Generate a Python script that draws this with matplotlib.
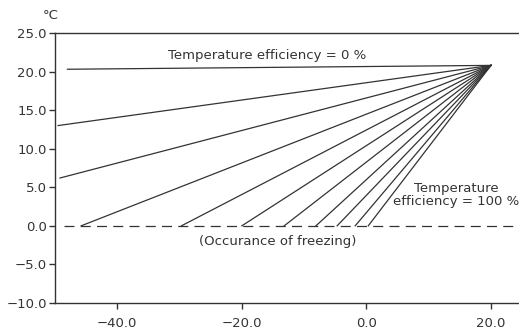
import matplotlib
matplotlib.use('Agg')
import matplotlib.pyplot as plt

plt.rcParams['font.family'] = ['DejaVu Sans']

# start points of each line (x, y); all lines meet at the same end point
start_x = [-48.0, -49.5, -49.2, -45.8, -29.7, -20.0, -13.2, -8.1, -4.7, -1.8, 0.3]
start_y = [20.3, 13.0, 6.2, 0.0, 0.0, 0.0, 0.0, 0.0, 0.0, 0.0, 0.0]
end_x, end_y = 20.0, 20.8
freeze_x = [-48.5, 24.5]
freeze_y = [0.0, 0.0]
xticks = [-40, -20, 0, 20]
yticks = [-10, -5, 0, 5, 10, 15, 20, 25]

def fmt(v):
    return ('%.1f' % v).replace('-', '\u2212')

col = '#333333'
fs = 9.5
fig = plt.figure(figsize=(5.19, 3.30), dpi=100)
ax = fig.add_axes([0.106, 0.082, 0.894, 0.818])

for sx, sy in zip(start_x, start_y):
    ax.plot([sx, end_x], [sy, end_y], color=col, lw=0.9)

ax.plot(freeze_x, freeze_y, color=col, lw=0.9, dashes=(8, 5))

ax.text(-16, 22.1, 'Temperature efficiency = 0 %', ha='center', va='center',
        fontsize=fs, color=col)
ax.text(14.4, 4.0, 'Temperature\nefficiency = 100 %', ha='center', va='center',
        fontsize=fs, color=col, linespacing=1.0)
ax.text(-14.2, -2.0, '(Occurance of freezing)', ha='center', va='center',
        fontsize=fs, color=col)

ax.set_xlim(-50, 24.5)
ax.set_ylim(-10, 25)
ax.set_xticks(xticks)
ax.set_xticklabels([fmt(v) for v in xticks])
ax.set_yticks(yticks)
ax.set_yticklabels([fmt(v) for v in yticks])
ax.tick_params(colors=col, labelsize=fs, length=4, width=1)
ax.tick_params(axis='x', pad=6)
ax.tick_params(axis='y', pad=2)
ax.spines['right'].set_visible(False)
for s in ['left', 'top', 'bottom']:
    ax.spines[s].set_color(col)
    ax.spines[s].set_linewidth(1)
ax.text(-0.01, 1.04, '°C', transform=ax.transAxes, ha='center', va='bottom',
        fontsize=fs, color=col)

fig.savefig('out.png', dpi=100)
